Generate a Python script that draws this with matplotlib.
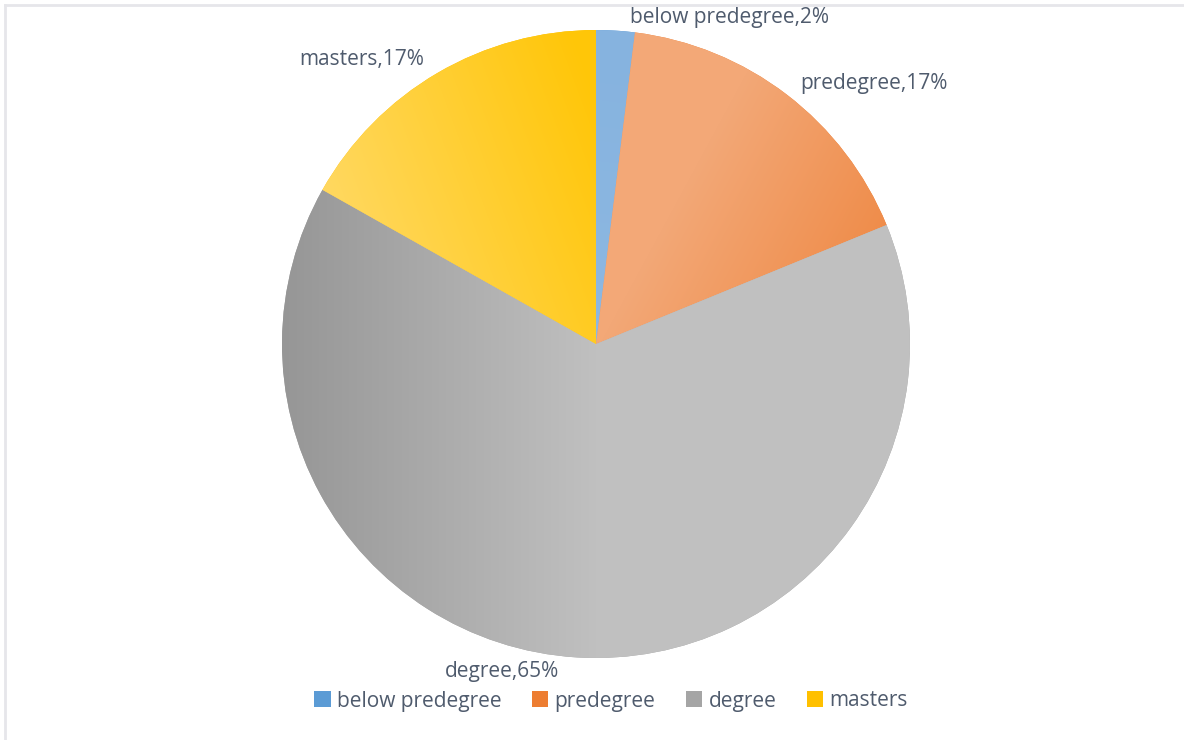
import numpy as np
import matplotlib.pyplot as plt
from matplotlib.patches import Patch
from matplotlib.lines import Line2D
from matplotlib.colors import to_rgb

# data (percent shares)
categories = ['below predegree', 'predegree', 'degree', 'masters']
shares = [2, 17, 65, 17]

# base colours (legend) and gradient stops (light -> dark) per slice
base_colors = ['#5B9BD5', '#ED7D31', '#A5A5A5', '#FFC000']
grad_light = ['#8DB8E2', '#F3A877', '#969696', '#FFD860']
grad_dark = ['#86B3DF', '#ED7D31', '#C0C0C0', '#FFC608']
text_color = '#4F5B6D'

W, H = 1184, 740
fig = plt.figure(figsize=(W / 100, H / 100), dpi=100)
ax = fig.add_axes([0, 0, 1, 1])

cx, cy, r = 596, H - 344, 314
wedges, _ = ax.pie(shares, center=(cx, cy), radius=r, startangle=90,
                   counterclock=False, colors=base_colors,
                   wedgeprops=dict(linewidth=0), frame=True)
ax.set_xlim(0, W)
ax.set_ylim(0, H)
ax.set_aspect('equal')
ax.axis('off')

# gradient directions (start point -> end point, pixel coords with y up)
grad_dirs = [
    ((cx, cy), (cx + 40, cy + 300)),
    ((cx + 20, cy + 30), (cx + 290, cy - 116)),
    ((cx - 314, cy), (cx, cy)),
    ((cx - 270, cy + 150), (cx, cy + 250)),
]

xx, yy = np.meshgrid(np.arange(W) + 0.5, np.arange(H) + 0.5)
for w, (p0, p1), c0, c1 in zip(wedges, grad_dirs, grad_light, grad_dark):
    d = np.array(p1) - np.array(p0)
    t = ((xx - p0[0]) * d[0] + (yy - p0[1]) * d[1]) / (d @ d)
    t = np.clip(t, 0, 1)[..., None]
    img = (1 - t) * np.array(to_rgb(c0)) + t * np.array(to_rgb(c1))
    im = ax.imshow(img, extent=(0, W, 0, H), origin='lower',
                   interpolation='bilinear', zorder=2)
    im.set_clip_path(w)

# outside labels
label_pos = [(730, 18), (874, 84), (502, 672), (362, 60)]
for name, val, (lx, ly) in zip(categories, shares, label_pos):
    ax.text(lx, H - ly, f'{name},{val}%', ha='center', va='center',
            fontsize=15, color=text_color, family='Open Sans', zorder=5)

# legend
handles = [Patch(facecolor=c, edgecolor='none') for c in base_colors]
fig.legend(handles, categories, loc='center', ncol=4,
           bbox_to_anchor=(611 / W, 1 - 701 / H), frameon=False,
           prop={'family': 'Open Sans', 'size': 15}, labelcolor=text_color,
           handlelength=0.8, handleheight=0.8, handletextpad=0.3,
           columnspacing=1.45)

# light chart border (top and left only)
fig.lines.append(Line2D([5 / W, 1], [1 - 5 / H, 1 - 5 / H],
                        transform=fig.transFigure, color='#E6E6EA', lw=2))
fig.lines.append(Line2D([5 / W, 5 / W], [0, 1 - 5 / H],
                        transform=fig.transFigure, color='#E6E6EA', lw=2))

fig.savefig('out.png', dpi=100, facecolor='white')
